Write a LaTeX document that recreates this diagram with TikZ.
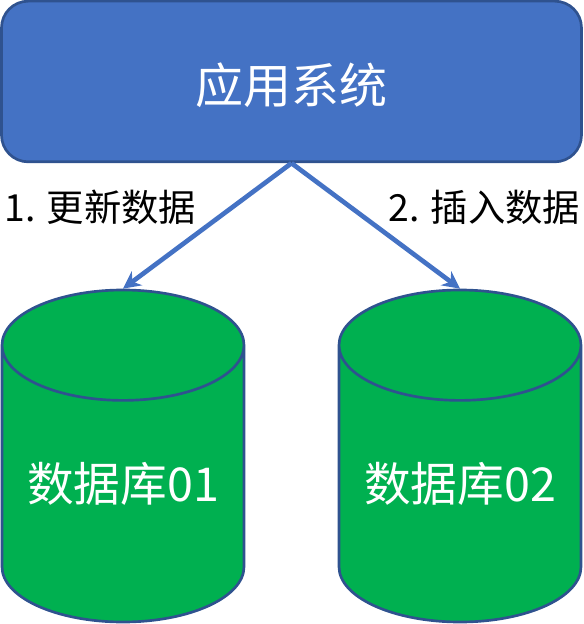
\documentclass[tikz,border=0pt]{standalone}
\usepackage{fontspec}
\setmainfont{Noto Sans CJK SC}
\usetikzlibrary{arrows.meta,positioning,shapes.geometric}
\definecolor{sysblue}{HTML}{4472C4}
\definecolor{sysedge}{HTML}{2F528F}
\definecolor{dbgreen}{HTML}{00B050}
\newcommand{\droptext}[2]{\raisebox{#1}[0pt][0pt]{#2}}
\tikzset{
  sysbox/.style={draw=sysedge, line width=2pt, fill=sysblue, rounded corners=20pt, minimum width=435pt, minimum height=120.5pt, text=white, font=\fontsize{36pt}{36pt}\selectfont},
  dbcyl/.style={cylinder, shape border rotate=90, aspect=0.55, anchor=shape center, draw=sysedge, line width=2pt, fill=dbgreen, minimum width=181.5pt, minimum height=249pt, text=white, font=\fontsize{35pt}{35pt}\selectfont},
  flow/.style={-{Stealth[length=13pt,width=13pt]}, draw=sysblue, line width=3.5pt},
  steplabel/.style={font=\fontsize{28pt}{28pt}\selectfont, inner sep=0pt}
}
\begin{document}
\begin{tikzpicture}[x=0.75pt, y=-0.75pt]
        \useasboundingbox (0,0) rectangle (583,624);

        \node[sysbox] (app) at (291.5,81.5) {\droptext{-16.5pt}{应用系统}};
        \node[dbcyl] (db1) at (123,456) {\droptext{-7pt}{数据库01}};
        \node[dbcyl] (db2) at (460,456) {\droptext{-7pt}{数据库02}};

        \draw[flow] (app.south) -- (db1.north);
        \draw[flow] (app.south) -- (db2.north);

        \node[steplabel] (step1) at (100.5,207) {1. 更新数据};
        \node[steplabel] (step2) at (484.5,207) {2. 插入数据};
\end{tikzpicture}
\end{document}
